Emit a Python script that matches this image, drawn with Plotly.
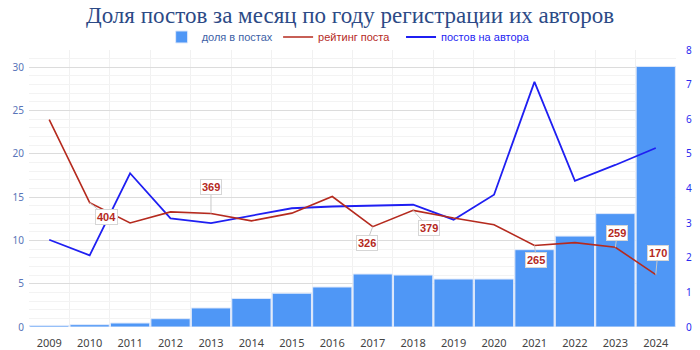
import plotly.graph_objects as go

years = [2009, 2010, 2011, 2012, 2013, 2014, 2015, 2016,
         2017, 2018, 2019, 2020, 2021, 2022, 2023, 2024]

# share of posts per month, % (left axis)
share_pct = [0.18, 0.27, 0.46, 0.96, 2.2, 3.3, 3.9, 4.62,
             6.12, 6.0, 5.54, 5.54, 8.93, 10.5, 13.1, 30.1]

# average post rating (hidden axis)
rating = [674, 404, 338, 374, 369, 345, 370, 424,
          326, 379, 354, 332, 265, 274, 259, 170]

# posts per author (right axis)
posts_per_author = [2.52, 2.07, 4.44, 3.14, 3.0, 3.21, 3.43, 3.48,
                    3.51, 3.53, 3.10, 3.82, 7.08, 4.22, 4.68, 5.17]

# rating values shown as callouts: year -> (dx, dy) offset of the label
rating_callouts = {2010: (17, 14), 2013: (0, -26), 2017: (-6, 16),
                   2018: (16, 18), 2021: (2, 15), 2023: (2, -14),
                   2024: (2, -22)}

BAR = "#4f97f6"
RED = "#b52a1e"
BLUE = "#1f1ff2"
LEGEND_FONT = "Liberation Sans Narrow, Liberation Sans, Arial, sans-serif"

fig = go.Figure()
fig.add_trace(go.Bar(
    x=years, y=share_pct, name="доля в постах",
    marker=dict(color=BAR, line=dict(color="#dfe9fb", width=1)),
    yaxis="y", legend="legend", showlegend=True,
))
fig.add_trace(go.Scatter(
    x=years, y=rating, name="рейтинг поста", mode="lines",
    line=dict(color=RED, width=1.6), yaxis="y3", legend="legend2", showlegend=True,
))
fig.add_trace(go.Scatter(
    x=years, y=posts_per_author, name="постов на автора", mode="lines",
    line=dict(color=BLUE, width=1.8), yaxis="y2", legend="legend3", showlegend=True,
))

for yr, (dx, dy) in rating_callouts.items():
    val = rating[years.index(yr)]
    fig.add_annotation(
        x=yr, y=val, xref="x", yref="y3", text=f"<b>{val}</b>",
        showarrow=True, arrowhead=0, arrowwidth=1, arrowcolor="#c8c8c8",
        ax=dx, ay=dy, axref="pixel", ayref="pixel",
        bgcolor="white", bordercolor="#d6d6d6", borderwidth=1, borderpad=1,
        font=dict(family="Liberation Sans, Arial, sans-serif", size=11, color=RED),
    )


def legend_box(x, color):
    return dict(orientation="h", x=x, xanchor="left", y=1.047, yanchor="middle",
                font=dict(family=LEGEND_FONT, size=11, color=color),
                itemwidth=30, bgcolor="rgba(0,0,0,0)", visible=True)


fig.update_layout(
    width=700, height=350,
    margin=dict(l=29, r=24, t=50, b=23, autoexpand=False),
    paper_bgcolor="white", plot_bgcolor="white",
    showlegend=True,
    bargap=0.03,
    title=dict(text="Доля постов за месяц по году регистрации их авторов",
               x=0.5, xanchor="center", y=0.957, yanchor="middle",
               font=dict(family="Liberation Serif, Times New Roman, serif",
                         size=23, color="#2c4a86")),
    legend=legend_box(0.205, "#3d5fa6"),
    legend2=legend_box(0.385, RED),
    legend3=legend_box(0.575, BLUE),
    xaxis=dict(
        range=[2008.5, 2024.5], tickmode="array", tickvals=years,
        ticktext=[str(y) for y in years], showgrid=False, zeroline=False,
        ticks="", ticklabelstandoff=8, automargin=False,
        tickfont=dict(family="Noto Sans, sans-serif", size=11, color="#444444"),
        minor=dict(tickmode="linear", tick0=2008.5, dtick=1, showgrid=True,
                   gridcolor="#f1f1f1", gridwidth=1),
    ),
    yaxis=dict(
        range=[0, 32], tickmode="linear", tick0=0, dtick=5, showgrid=True,
        gridcolor="#dcdcdc", gridwidth=1, zeroline=False, ticklabelstandoff=4,
        automargin=False,
        tickfont=dict(family="Noto Sans, sans-serif", size=10, color="#5874b8"),
        minor=dict(tickmode="linear", tick0=0, dtick=1, showgrid=True,
                   gridcolor="#f3f3f3", gridwidth=1),
    ),
    yaxis2=dict(
        range=[0, 8], overlaying="y", side="right", tickmode="linear",
        tick0=0, dtick=1, showgrid=False, zeroline=False, ticklabelstandoff=9,
        automargin=False,
        tickfont=dict(family="Noto Sans, sans-serif", size=10, color="#2a2af0"),
    ),
    yaxis3=dict(range=[0, 900], overlaying="y", visible=False),
)

fig.write_html("out.html")
